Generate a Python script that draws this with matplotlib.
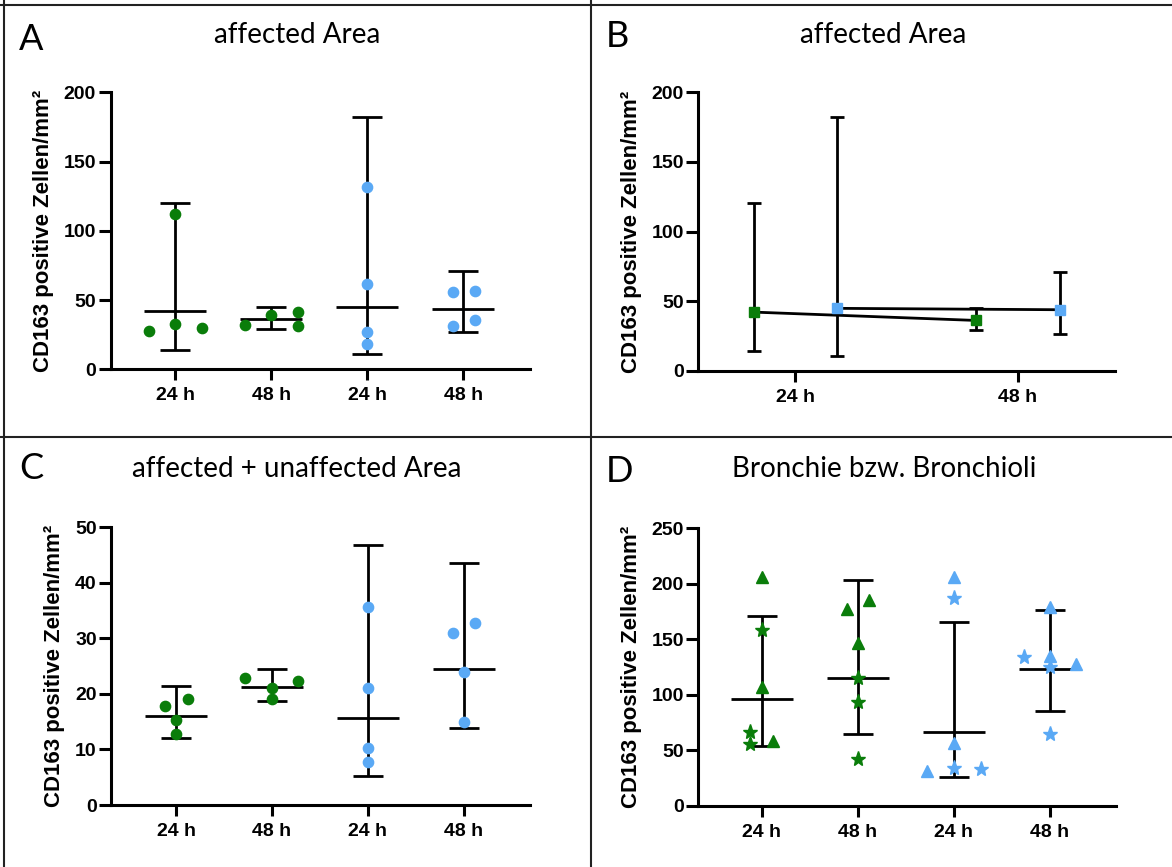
import numpy as np
import matplotlib
matplotlib.use('Agg')
import matplotlib.pyplot as plt
from matplotlib.lines import Line2D

# ---- data ----
groups = ['24 h', '48 h', '24 h', '48 h']
times = ['24 h', '48 h']

# A: affected Area
a_points = [[27.7, 112.2, 32.7, 29.6],
            [32.0, 39.5, 41.2, 31.5],
            [131.6, 61.9, 26.7, 18.3],
            [55.8, 56.8, 31.3, 35.9]]
a_spread = [[-0.27, 0, 0, 0.28],
            [-0.27, 0, 0.28, 0.28],
            [0, 0, 0, 0],
            [-0.11, 0.12, -0.11, 0.12]]
a_mean = [42.1, 36.1, 44.8, 43.8]
a_low = [14.2, 28.9, 10.8, 26.7]
a_high = [120.3, 44.8, 182.0, 71.0]

# C: affected + unaffected Area
c_points = [[17.9, 19.0, 15.3, 12.7],
            [22.9, 21.1, 19.1, 22.4],
            [35.7, 21.0, 10.2, 7.8],
            [30.9, 32.8, 23.9, 14.9]]
c_spread = [[-0.12, 0.12, 0, 0],
            [-0.277, 0, 0, 0.277],
            [0, 0, 0, 0],
            [-0.11, 0.12, 0, 0]]
c_mean = [16.1, 21.3, 15.7, 24.5]
c_low = [12.1, 18.7, 5.2, 13.8]
c_high = [21.4, 24.4, 46.9, 43.5]

# D: Bronchie bzw. Bronchioli (triangles / stars)
d_tri = [[206.0, 107.3, 58.3],
         [177.0, 185.4, 146.4],
         [206.0, 56.2, 31.5],
         [179.0, 135.0, 127.7]]
d_tri_spread = [[0, 0, 0.115], [-0.11, 0.115, 0], [0, 0, -0.278], [0, 0, 0.275]]
d_star = [[158.2, 66.7, 55.6],
          [114.8, 93.7, 42.1],
          [187.5, 33.7, 33.1],
          [134.3, 124.7, 64.6]]
d_star_spread = [[0, -0.12, -0.12], [0, 0, 0], [0, 0, 0.278], [-0.27, 0, 0]]
d_mean = [96.2, 114.8, 66.1, 122.9]
d_low = [53.8, 64.6, 26.1, 85.3]
d_high = [171.2, 203.4, 165.8, 176.4]

green = '#0a7d0a'
blue = '#5aa9f5'
group_colors = [green, green, blue, blue]

W, H = 1172, 867
fig = plt.figure(figsize=(W / 100, H / 100), dpi=100)

tick_font = {'family': 'Liberation Sans', 'weight': 'bold', 'size': 14}
ylab = 'CD163 positive Zellen/mm²'


def box(l, r, t, b):
    return [l / W, 1 - b / H, (r - l) / W, (b - t) / H]


def style(ax, ymax, ystep, xlim, xticks, xlabels):
    ax.set_ylim(0, ymax)
    ax.set_xlim(*xlim)
    ax.set_yticks(np.arange(0, ymax + 1, ystep))
    ax.set_xticks(xticks)
    ax.set_xticklabels(xlabels)
    for s in ['top', 'right']:
        ax.spines[s].set_visible(False)
    for s in ['left', 'bottom']:
        ax.spines[s].set_linewidth(2.2)
    ax.tick_params(axis='y', length=9, width=2.2, pad=1.5)
    ax.tick_params(axis='x', length=8, width=2.2, pad=5)
    for lab in ax.get_xticklabels() + ax.get_yticklabels():
        lab.set_fontproperties(tick_font)
    ax.set_ylabel(ylab, fontfamily='Liberation Sans', fontweight='bold',
                  fontsize=16, labelpad=7)


def column_scatter(ax, points, spread, mean, low, high, marker, ms):
    x = np.arange(1, len(points) + 1)
    ax.errorbar(x, mean, yerr=[np.subtract(mean, low), np.subtract(high, mean)],
                fmt='_', color='k', markersize=45, mew=2.0, elinewidth=2.0,
                capsize=10.5, capthick=2.0, zorder=2)
    for i, (vals, offs) in enumerate(zip(points, spread)):
        ax.plot(x[i] + np.array(offs), vals, linestyle='none', marker=marker,
                ms=ms, color=group_colors[i], mec=group_colors[i], zorder=3)


# ---- Panel A ----
axA = fig.add_axes(box(110.6, 529.7, 92.3, 369.3))
column_scatter(axA, a_points, a_spread, a_mean, a_low, a_high, 'o', 7.4)
style(axA, 200, 50, (0.326, 4.69), [1, 2, 3, 4], groups)

# ---- Panel B ----
axB = fig.add_axes(box(698.4, 1115, 92.3, 370.7))
xt = np.arange(1, len(times) + 1)
for idx, col, dx in [([0, 1], green, -0.1875), ([2, 3], blue, 0.1875)]:
    m = np.array(a_mean)[idx]
    lo = np.array(a_low)[idx]
    hi = np.array(a_high)[idx]
    axB.errorbar(xt + dx, m, yerr=[m - lo, hi - m], fmt='none', ecolor='k',
                 elinewidth=2.0, capsize=4.7, capthick=2.0, zorder=2)
    axB.plot(xt + dx, m, color='k', lw=2.0, zorder=2)
    axB.plot(xt + dx, m, linestyle='none', marker='s', ms=7.5, color=col,
             mec=col, zorder=3)
style(axB, 200, 50, (0.565, 2.436), xt, times)

# ---- Panel C ----
axC = fig.add_axes(box(111.4, 529.7, 527.3, 805))
column_scatter(axC, c_points, c_spread, c_mean, c_low, c_high, 'o', 7.4)
style(axC, 50, 10, (0.326, 4.69), [1, 2, 3, 4], groups)

# ---- Panel D ----
axD = fig.add_axes(box(698.4, 1116, 528.3, 805.7))
column_scatter(axD, d_tri, d_tri_spread, d_mean, d_low, d_high, '^', 8)
xd = np.arange(1, len(d_star) + 1)
for i, (vals, offs) in enumerate(zip(d_star, d_star_spread)):
    axD.plot(xd[i] + np.array(offs), vals, linestyle='none', marker='*',
             ms=11, color=group_colors[i], mec=group_colors[i], zorder=3)
style(axD, 250, 50, (0.3375, 4.69), [1, 2, 3, 4], groups)

# ---- titles and panel letters ----
title_font = dict(family='Lato', size=20, ha='center', va='baseline')
letter_font = dict(family='Lato', size=26, ha='left', va='baseline')
for x, y, t in [(297, 43, 'affected Area'), (883, 43, 'affected Area'),
                (297, 477, 'affected + unaffected Area'),
                (884, 477, 'Bronchie bzw. Bronchioli')]:
    fig.text(x / W, 1 - y / H, t, **title_font)
for x, y, t in [(19, 50, 'A'), (606, 47, 'B'), (19, 479, 'C'), (606, 482, 'D')]:
    fig.text(x / W, 1 - y / H, t, **letter_font)

# ---- panel frame lines ----
for xs, ys in [([0, W], [5, 5]), ([4, 4], [0, H]),
               ([591, 591], [0, H]), ([0, W], [437, 437])]:
    fig.add_artist(Line2D(np.array(xs) / W, 1 - np.array(ys) / H,
                          transform=fig.transFigure, color='#222222', lw=1.5))

fig.savefig('out.png', dpi=100)
